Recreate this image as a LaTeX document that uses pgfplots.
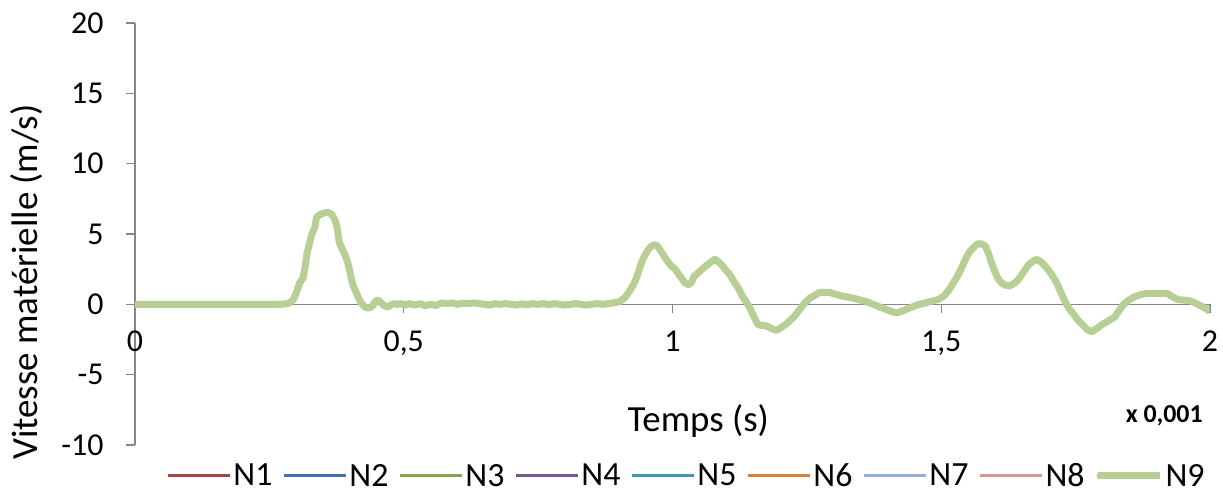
\documentclass[border=0pt]{standalone}
\usepackage{pgfplots}
\pgfplotsset{compat=1.18}
\usepackage{fontspec}
\setmainfont{Carlito}
\definecolor{axgray}{RGB}{134,134,134}
\definecolor{n1}{RGB}{170,68,66}
\definecolor{n2}{RGB}{69,114,172}
\definecolor{n3}{RGB}{134,164,74}
\definecolor{n4}{RGB}{113,88,143}
\definecolor{n5}{RGB}{64,152,175}
\definecolor{n6}{RGB}{218,129,55}
\definecolor{n7}{RGB}{149,174,214}
\definecolor{n8}{RGB}{214,148,148}
\definecolor{n9}{RGB}{183,206,148}
\begin{document}
\begin{tikzpicture}
\begin{axis}[
  scale only axis,
  width=1075bp, height=422bp,
  xmin=0, xmax=2, ymin=-10, ymax=20,
  axis x line=middle, axis y line=left,
  axis line style={axgray, line width=1.2bp, -},
  hide obscured x ticks=false, hide obscured y ticks=false,
  xtick={0,0.5,1,1.5,2}, xticklabels={0,{0,5},1,{1,5},2},
  ytick={-10,-5,0,5,10,15,20}, yticklabels={-10,-5,0,5,10,15,20},
  tick align=outside, major tick length=9bp,
  tick style={axgray, line width=1.2bp},
  xticklabel style={font=\fontsize{32}{38}\selectfont, text=black, yshift=-14bp},
  yticklabel style={font=\fontsize{32}{38}\selectfont, text=black, xshift=-19bp},
  xlabel={Temps (s)},
  xlabel style={at={(axis description cs:0.524,0.031)}, anchor=base, font=\fontsize{37}{44}\selectfont},
  ylabel={Vitesse matérielle (m/s)},
  ylabel style={at={(axis description cs:-0.091,0.386)}, anchor=base, font=\fontsize{37}{44}\selectfont},
  legend columns=9,
  legend style={at={(axis description cs:0.513,-0.073)}, anchor=center, draw=none, fill=none,
    font=\fontsize{34}{40}\selectfont, /tikz/every even column/.append style={column sep=8bp}},
  legend image code/.code={\draw[line cap=round, #1] (2bp,0bp) -- (56bp,0bp); \path (0bp,0bp) -- (62bp,0bp);},
]
\addlegendimage{n1, line width=3bp}
\addlegendentry{N1}
\addlegendimage{n2, line width=3bp}
\addlegendentry{N2}
\addlegendimage{n3, line width=3bp}
\addlegendentry{N3}
\addlegendimage{n4, line width=3bp}
\addlegendentry{N4}
\addlegendimage{n5, line width=3bp}
\addlegendentry{N5}
\addlegendimage{n6, line width=3bp}
\addlegendentry{N6}
\addlegendimage{n7, line width=3bp}
\addlegendentry{N7}
\addlegendimage{n8, line width=3bp}
\addlegendentry{N8}
\addplot[n9, line width=7bp, line join=round] coordinates {
(0,0) (0.27,0) (0.285,0.05) (0.294,0.3) (0.300,0.8) (0.306,1.5) (0.313,1.9) (0.317,2.8)
(0.320,3.6) (0.325,4.4) (0.329,5.0) (0.334,5.4) (0.338,6.2) (0.345,6.4) (0.352,6.5) (0.359,6.55)
(0.366,6.4) (0.372,6.0) (0.376,5.5) (0.380,4.4) (0.386,3.9) (0.392,3.4) (0.397,2.8) (0.402,1.9)
(0.406,1.3) (0.412,0.8) (0.419,0.2) (0.425,-0.1) (0.431,-0.25) (0.437,-0.25) (0.443,-0.05) (0.448,0.25)
(0.453,0.3) (0.458,0.1) (0.464,-0.1) (0.470,-0.2) (0.476,-0.05) (0.482,0.05) (0.488,0.0) (0.495,0.05)
(0.502,-0.05) (0.510,0.05) (0.520,-0.05) (0.530,0.05) (0.540,-0.1) (0.550,0.0) (0.560,-0.08) (0.570,0.1)
(0.580,0.05) (0.590,0.1) (0.600,0.0) (0.610,0.08) (0.620,0.05) (0.630,0.1) (0.640,0.05) (0.650,0.0)
(0.660,-0.05) (0.670,0.05) (0.680,0.0) (0.690,0.05) (0.700,0.0) (0.710,-0.05) (0.720,0.03) (0.730,-0.03)
(0.740,0.05) (0.750,0.0) (0.760,0.05) (0.770,-0.02) (0.780,0.05) (0.790,0.0) (0.800,-0.05) (0.810,0.0)
(0.820,0.05) (0.830,0.0) (0.840,-0.05) (0.850,0.0) (0.860,0.05) (0.870,0.0) (0.880,0.05) (0.890,0.1)
(0.902,0.2) (0.912,0.5) (0.921,1.0) (0.930,1.6) (0.936,2.2) (0.940,2.7) (0.945,3.2) (0.949,3.5)
(0.955,3.9) (0.960,4.1) (0.966,4.25) (0.972,4.15) (0.978,3.8) (0.985,3.4) (0.992,3.0) (0.998,2.7)
(1.005,2.5) (1.012,2.1) (1.018,1.8) (1.024,1.5) (1.030,1.4) (1.036,1.6) (1.040,2.0) (1.047,2.2)
(1.055,2.5) (1.063,2.75) (1.071,3.0) (1.079,3.2) (1.086,3.0) (1.094,2.7) (1.100,2.4) (1.107,2.1)
(1.113,1.7) (1.120,1.3) (1.126,0.9) (1.131,0.5) (1.137,0.2) (1.143,-0.2) (1.148,-0.6) (1.153,-1.0)
(1.159,-1.45) (1.166,-1.5) (1.172,-1.5) (1.178,-1.6) (1.186,-1.75) (1.194,-1.85) (1.202,-1.65) (1.210,-1.45)
(1.219,-1.15) (1.228,-0.8) (1.237,-0.35) (1.246,0.1) (1.256,0.45) (1.265,0.65) (1.274,0.85) (1.283,0.85)
(1.292,0.85) (1.300,0.75) (1.310,0.65) (1.320,0.55) (1.330,0.5) (1.340,0.4) (1.350,0.3) (1.360,0.2)
(1.370,0.05) (1.380,-0.1) (1.390,-0.25) (1.400,-0.4) (1.410,-0.55) (1.418,-0.6) (1.426,-0.5) (1.435,-0.35)
(1.445,-0.2) (1.455,-0.05) (1.465,0.05) (1.475,0.15) (1.485,0.25) (1.495,0.35) (1.505,0.6) (1.514,1.0)
(1.522,1.5) (1.530,2.0) (1.538,2.6) (1.545,3.2) (1.552,3.7) (1.559,4.0) (1.567,4.3) (1.575,4.3)
(1.582,4.15) (1.588,3.6) (1.594,2.9) (1.600,2.3) (1.606,1.8) (1.613,1.5) (1.620,1.35) (1.627,1.3)
(1.634,1.45) (1.641,1.65) (1.648,2.0) (1.655,2.4) (1.662,2.8) (1.670,3.05) (1.678,3.2) (1.686,3.0)
(1.694,2.7) (1.702,2.3) (1.709,1.9) (1.715,1.5) (1.722,0.9) (1.729,0.3) (1.736,-0.2) (1.745,-0.65)
(1.754,-1.1) (1.764,-1.5) (1.772,-1.8) (1.780,-1.95) (1.790,-1.7) (1.801,-1.4) (1.812,-1.15) (1.823,-0.9)
(1.830,-0.5) (1.838,-0.05) (1.849,0.3) (1.860,0.55) (1.872,0.7) (1.883,0.78) (1.900,0.78) (1.920,0.78)
(1.930,0.55) (1.940,0.33) (1.952,0.3) (1.963,0.25) (1.972,0.1) (1.981,-0.07) (1.992,-0.3) (2.000,-0.5)
};
\addlegendentry{N9}
\node[anchor=base east, font=\bfseries\fontsize{26}{31}\selectfont] at (rel axis cs:0.9965,0.053) {x 0,001};
\coordinate (sw) at (rel axis cs:0,0);
\end{axis}
\pgfresetboundingbox
\path (sw) ++(-135bp,-52bp) rectangle ++(1223bp,497bp);
\end{tikzpicture}
\end{document}
